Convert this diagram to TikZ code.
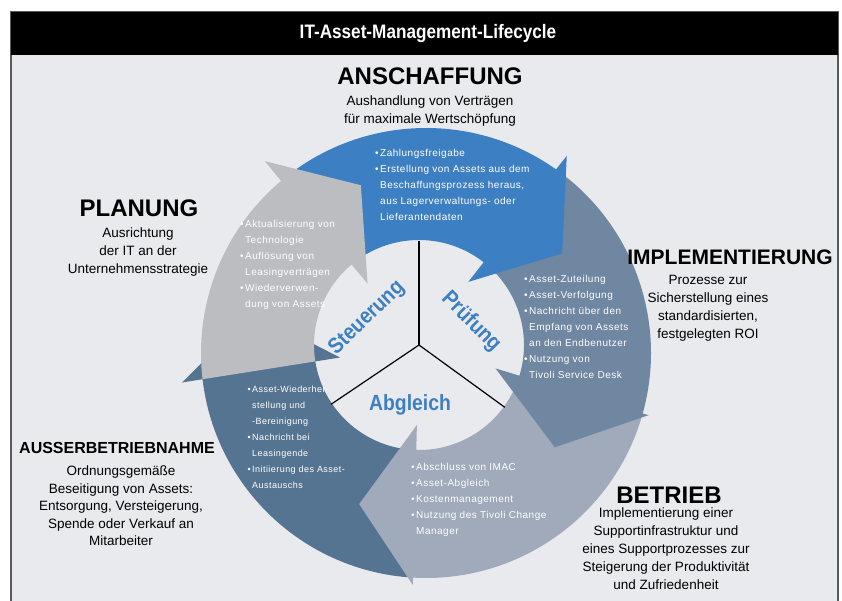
\documentclass[tikz,border=0pt]{standalone}
\usepackage{fontspec}
\setmainfont{Liberation Sans}
\newfontfamily\etroit[FakeStretch=0.88]{Liberation Sans}
\newfontfamily\espace[LetterSpace=5]{Liberation Sans}
\usetikzlibrary{calc}

\definecolor{fond}{RGB}{233,234,238}
\definecolor{bleu}{RGB}{61,127,195}
\definecolor{ardoise}{RGB}{111,135,161}
\definecolor{acier}{RGB}{160,170,187}
\definecolor{marine}{RGB}{85,116,146}
\definecolor{grisclair}{RGB}{188,189,193}
\definecolor{bord}{RGB}{90,90,90}

% puce suspendue a gauche
\newcommand{\puce}{\llap{•\hspace{1.5pt}}}

% fleche courbe : couleur, queue, queue (jante), barbes, barbes (jante), pointe
\newcommand{\fleche}[6]{%
  \fill[#1] ($(centre)+(#2:105)$) -- ($(jante)+(#3:225)$)
    arc[start angle=#3, end angle=#5, radius=225]
    -- ($(centre)+(#4:240)$) -- ($(centre)+(#6:170)$) -- ($(centre)+(#4:80)$)
    -- ($(centre)+(#4:105)$) arc[start angle=#4, end angle=#2, radius=105] -- cycle;
}

\begin{document}
\begin{tikzpicture}[x=1pt, y=1pt,
    phase/.style={font=\bfseries\fontsize{24}{24}\selectfont, anchor=base, inner sep=0pt},
    resume/.style={font=\fontsize{13.5}{18}\selectfont, align=center, anchor=base, inner sep=0pt},
    liste/.style={font=\espace\fontsize{10}{16}\selectfont, text=white, align=left, anchor=base west, inner sep=0pt},
    moyeu/.style={font=\etroit\bfseries\fontsize{22}{22}\selectfont, text=bleu, inner sep=0pt},
    trait/.style={black, line width=1.2pt}]
  \useasboundingbox (0,0) rectangle (842,601);

  % Cadre et bandeau du titre
  \fill[white] (0,0) rectangle (842,601);
  \fill[fond] (11,-5) rectangle (838,546);
  \draw[bord, line width=2pt] (11,-5) -- (11,589) -- (838,589) -- (838,-5);
  \fill[black] (11,546) rectangle (838,589);
  \node[font=\etroit\bfseries\fontsize{19.5}{20}\selectfont, text=white] (titre) at (428,567) {IT-Asset-Management-Lifecycle};

  \coordinate (centre) at (419,256);
  \coordinate (jante) at (426,248);

  % Les cinq fleches (ordre de superposition)
  \fleche{marine}{268.5}{266.7}{189}{186.7}{169}
  \fleche{acier}{343}{344.4}{268.5}{266.7}{249.4}
  \fleche{ardoise}{52}{54.7}{-17}{-15.6}{-37}
  \fleche{bleu}{130}{130.1}{52}{54.7}{32.6}
  \fleche{grisclair}{189}{186.7}{130}{130.1}{110}

  % Moyeu en trois parts
  \coordinate (haut) at ($(centre)+(90:104)$);
  \coordinate (gauche) at ($(centre)+(214:106)$);
  \coordinate (droite) at ($(centre)+(324:106)$);
  \draw[trait] (centre) -- (haut);
  \draw[trait] (centre) -- (gauche);
  \draw[trait] (centre) -- (droite);
  \node[moyeu, rotate=44] (steuerung) at (367,283) {Steuerung};
  \node[moyeu, rotate=-45] (pruefung) at (471,279) {Prüfung};
  \node[moyeu] (abgleich) at (410,196) {Abgleich};

  % Contenu des fleches (ancre = ligne de base de la derniere ligne)
  \node[liste] (achat) at (380,380) {\puce Zahlungsfreigabe\\ \puce Erstellung von Assets aus dem\\ Beschaffungsprozess heraus,\\ aus Lagerverwaltungs- oder\\ Lieferantendaten};
  \node[liste] (mise) at (529,222) {\puce Asset-Zuteilung\\ \puce Asset-Verfolgung\\ \puce Nachricht über den\\ Empfang von Assets\\ an den Endbenutzer\\ \puce Nutzung von\\ Tivoli Service Desk};
  \node[liste] (exploit) at (416,66) {\puce Abschluss von IMAC\\ \puce Asset-Abgleich\\ \puce Kostenmanagement\\ \puce Nutzung des Tivoli Change\\ Manager};
  \node[liste, font=\espace\fontsize{9}{16}\selectfont] (retrait) at (252,112) {\puce Asset-Wiederher-\\ stellung und\\ -Bereinigung\\ \puce Nachricht bei\\ Leasingende\\ \puce Initiierung des Asset-\\ Austauschs};
  \node[liste] (plan) at (245,293) {\puce Aktualisierung von\\ Technologie\\ \puce Auflösung von\\ Leasingverträgen\\ \puce Wiederverwen-\\ dung von Assets};

  % Phases et descriptions
  \node[phase] (anschaffung) at (430,516) {ANSCHAFFUNG};
  \node[resume] (anschaffungtxt) at (430,477) {Aushandlung von Verträgen\\für maximale Wertschöpfung};
  \node[phase] (planung) at (139,384) {PLANUNG};
  \node[resume] (planungtxt) at (138,327) {Ausrichtung\\der IT an der\\Unternehmensstrategie};
  \node[phase, font=\bfseries\fontsize{21}{21}\selectfont] (implementierung) at (730,336) {IMPLEMENTIERUNG};
  \node[resume] (implementierungtxt) at (708,262) {Prozesse zur\\Sicherstellung eines\\standardisierten,\\festgelegten ROI};
  \node[phase] (betrieb) at (669,97) {BETRIEB};
  \node[resume] (betriebtxt) at (666,11) {Implementierung einer\\Supportinfrastruktur und\\eines Supportprozesses zur\\Steigerung der Produktivität\\und Zufriedenheit};
  \node[phase, font=\bfseries\fontsize{16}{16}\selectfont] (ausser) at (117,147) {AUSSERBETRIEBNAHME};
  \node[resume, font=\fontsize{13.5}{17.5}\selectfont] (ausssertxt) at (121,55) {Ordnungsgemäße\\Beseitigung von Assets:\\Entsorgung, Versteigerung,\\Spende oder Verkauf an\\Mitarbeiter};
\end{tikzpicture}
\end{document}
